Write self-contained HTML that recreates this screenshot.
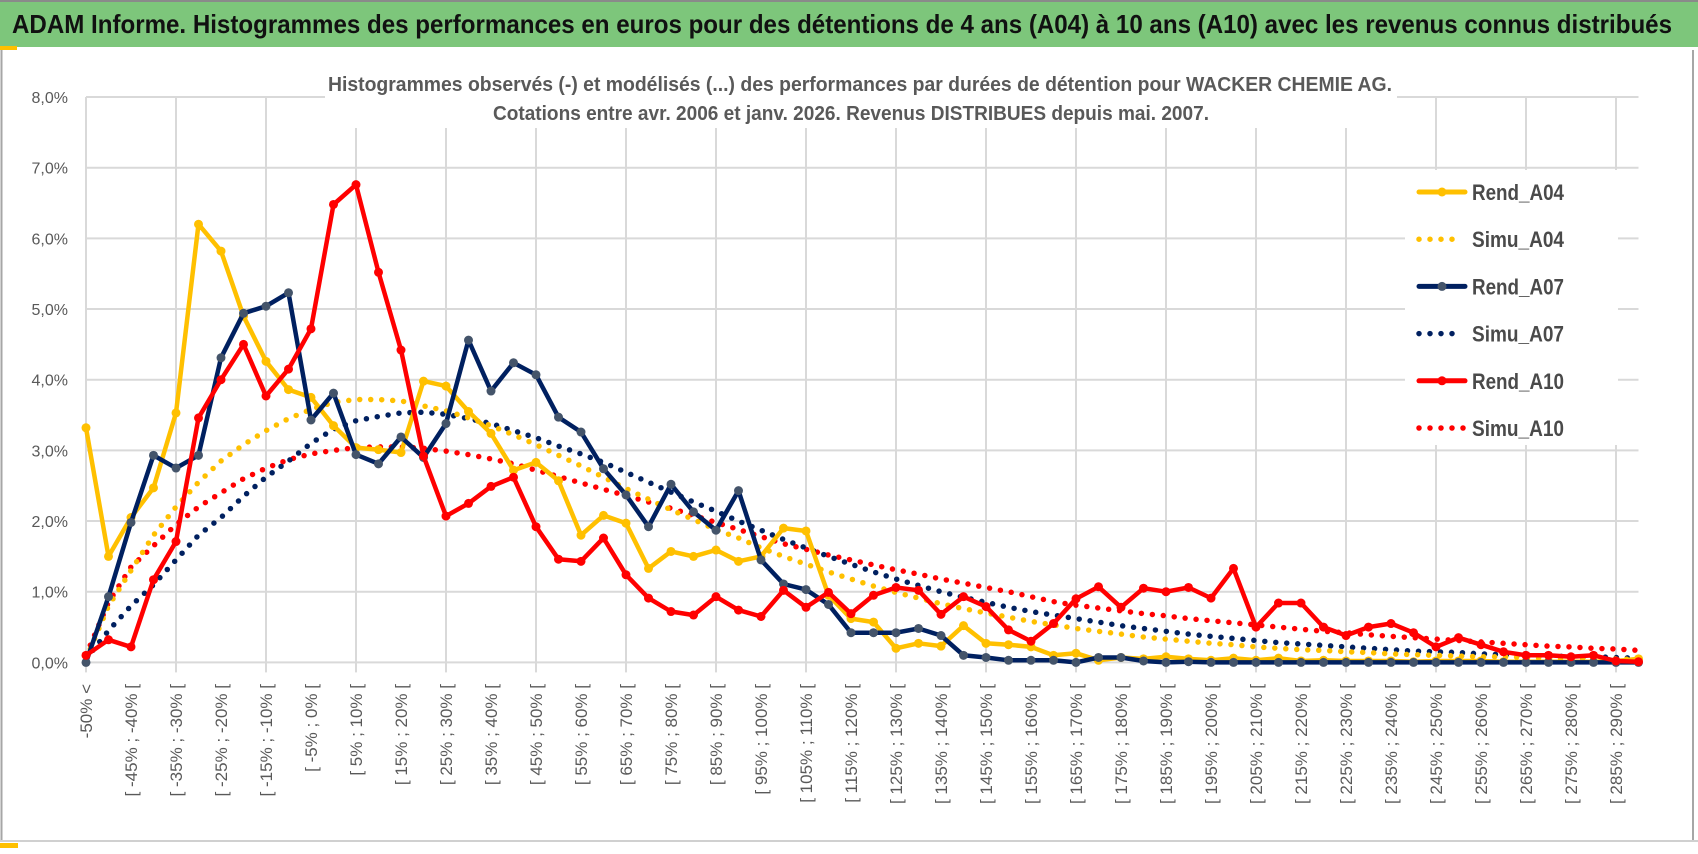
<!DOCTYPE html>
<html><head><meta charset="utf-8"><style>
html,body{margin:0;padding:0;background:#fff;}
#wrap{position:relative;width:1698px;height:854px;overflow:hidden;background:#fff;font-family:"Liberation Sans",sans-serif;}
svg text{font-family:"Liberation Sans",sans-serif;}
</style></head><body>
<div id="wrap">
<svg id="chart" width="1698" height="854" viewBox="0 0 1698 854" xmlns="http://www.w3.org/2000/svg">
  <rect x="0" y="0" width="1698" height="47" fill="#7dc67b"/>
  <line x1="0" y1="1" x2="1698" y2="1" stroke="#8a8a8a" stroke-width="2"/>
  <text x="12" y="33" font-size="26" font-weight="bold" fill="#111" textLength="1660" lengthAdjust="spacingAndGlyphs">ADAM Informe. Histogrammes des performances en euros pour des détentions de 4 ans (A04) à 10 ans (A10) avec les revenus connus distribués</text>
  <rect x="0" y="46" width="17" height="4" fill="#ffc000"/>
  <line x1="1.5" y1="50" x2="1.5" y2="842" stroke="#a6a6a6" stroke-width="2"/>
  <line x1="1693" y1="50" x2="1693" y2="842" stroke="#a6a6a6" stroke-width="2"/>
  <line x1="0" y1="841" x2="1698" y2="841" stroke="#d0d0d0" stroke-width="2"/>
  <rect x="0" y="843" width="18" height="5" fill="#ffc000"/>
  <g id="grid"></g>
  <g id="yaxis"></g>
  <g id="xaxis"></g>
  <g id="series"></g>
  <rect x="325" y="68" width="1072" height="60" fill="#fff"/>
  <text x="860" y="91" font-size="20" font-weight="bold" fill="#595959" text-anchor="middle" textLength="1064" lengthAdjust="spacingAndGlyphs">Histogrammes observés (-) et modélisés (...) des performances par durées de détention pour WACKER CHEMIE AG.</text>
  <text x="851" y="120" font-size="20" font-weight="bold" fill="#595959" text-anchor="middle" textLength="716" lengthAdjust="spacingAndGlyphs">Cotations entre avr. 2006 et janv. 2026. Revenus DISTRIBUES depuis mai. 2007.</text>
  <g id="legend"></g>
</svg>
</div>
<script>
const categories = (function(){const a=['-50% <'];for(let k=1;k<70;k++){const lo=-55+5*k;a.push('[ '+lo+'% ; '+(lo+5)+'% [');}return a;})();
const yTicks = [0,1,2,3,4,5,6,7,8];
const yTickLabels = ['0,0%','1,0%','2,0%','3,0%','4,0%','5,0%','6,0%','7,0%','8,0%'];
const rendA04 = [3.32,1.5,2.05,2.47,3.53,6.2,5.82,4.9,4.26,3.86,3.75,3.35,3.04,3.01,2.97,3.98,3.91,3.55,3.24,2.72,2.83,2.57,1.8,2.08,1.97,1.33,1.57,1.5,1.59,1.43,1.5,1.9,1.86,0.95,0.62,0.57,0.2,0.27,0.23,0.52,0.27,0.25,0.22,0.1,0.13,0.03,0.07,0.05,0.08,0.05,0.03,0.06,0.03,0.06,0.02,0.03,0.02,0.02,0.02,0.01,0.02,0.02,0.02,0.01,0.01,0.01,0.01,0.01,0.02,0.05];
const simuA04 = [0.05,0.8,1.3,1.8,2.2,2.55,2.85,3.08,3.28,3.45,3.58,3.68,3.72,3.72,3.7,3.63,3.56,3.46,3.35,3.22,3.08,2.93,2.78,2.62,2.46,2.31,2.16,2.02,1.88,1.76,1.62,1.5,1.39,1.28,1.18,1.08,0.99,0.91,0.83,0.76,0.7,0.64,0.58,0.53,0.48,0.44,0.4,0.36,0.33,0.3,0.27,0.25,0.22,0.2,0.18,0.17,0.15,0.14,0.12,0.11,0.1,0.09,0.08,0.08,0.07,0.06,0.06,0.05,0.05,0.04];
const rendA07 = [0,0.93,1.98,2.93,2.75,2.93,4.31,4.94,5.04,5.23,3.43,3.81,2.94,2.81,3.19,2.9,3.38,4.56,3.84,4.24,4.07,3.47,3.26,2.74,2.37,1.92,2.52,2.13,1.87,2.43,1.45,1.11,1.03,0.82,0.42,0.42,0.42,0.48,0.38,0.1,0.07,0.03,0.03,0.03,0,0.07,0.07,0.02,0,0.01,0,0,0,0,0,0,0,0,0,0,0,0,0,0,0,0,0,0,0,0];
const simuA07 = [0.05,0.45,0.8,1.1,1.45,1.8,2.05,2.35,2.62,2.85,3.1,3.3,3.42,3.48,3.53,3.54,3.51,3.45,3.38,3.28,3.18,3.06,2.95,2.83,2.69,2.55,2.41,2.27,2.14,2.0,1.87,1.74,1.62,1.5,1.39,1.28,1.18,1.09,1.0,0.92,0.85,0.78,0.72,0.67,0.62,0.57,0.52,0.48,0.44,0.4,0.37,0.34,0.31,0.28,0.26,0.24,0.22,0.2,0.18,0.16,0.15,0.14,0.12,0.11,0.1,0.09,0.08,0.08,0.07,0.06];
const rendA10 = [0.1,0.32,0.22,1.17,1.71,3.46,4.0,4.5,3.77,4.15,4.72,6.48,6.76,5.52,4.42,2.92,2.07,2.25,2.49,2.62,1.92,1.46,1.43,1.76,1.24,0.91,0.72,0.67,0.93,0.74,0.65,1.02,0.78,0.99,0.69,0.95,1.06,1.02,0.68,0.93,0.79,0.46,0.3,0.55,0.9,1.07,0.78,1.05,1.0,1.06,0.91,1.33,0.5,0.84,0.84,0.5,0.38,0.5,0.55,0.42,0.22,0.35,0.25,0.15,0.1,0.1,0.08,0.1,0.02,0.01];
const simuA10 = [0.1,0.85,1.35,1.65,1.95,2.2,2.4,2.6,2.75,2.87,2.95,3.0,3.04,3.05,3.05,3.03,2.99,2.94,2.88,2.81,2.72,2.63,2.54,2.45,2.36,2.27,2.18,2.08,1.98,1.88,1.78,1.68,1.6,1.52,1.45,1.38,1.31,1.25,1.18,1.12,1.06,1.0,0.93,0.86,0.81,0.77,0.73,0.69,0.66,0.62,0.59,0.56,0.53,0.5,0.47,0.44,0.42,0.39,0.37,0.35,0.33,0.31,0.29,0.27,0.25,0.23,0.22,0.2,0.19,0.17];
const seriesNames = ['Rend_A04','Simu_A04','Rend_A07','Simu_A07','Rend_A10','Simu_A10'];

const NS='http://www.w3.org/2000/svg';
const X0=86, DX=22.5, Y0=662.4, DY=70.67, XR=1638.5;
function xPos(i){return X0+DX*i;}
function yPos(v){return Y0-DY*v;}
function mk(tag,attrs,parent){const e=document.createElementNS(NS,tag);for(const k in attrs)e.setAttribute(k,attrs[k]);parent.appendChild(e);return e;}

const grid=document.getElementById('grid');
yTicks.forEach(function(t){
  const l=mk('line',{x1:X0,x2:XR,y1:yPos(t),y2:yPos(t),stroke:'#d9d9d9','stroke-width':2},grid);
  
  
});
for(let i=0;i<categories.length;i+=4){
  const l=mk('line',{x1:xPos(i),x2:xPos(i),y1:yPos(8),y2:Y0+10,stroke:'#d9d9d9','stroke-width':2},grid);
  
  
}
const yaxis=document.getElementById('yaxis');
yTicks.forEach(function(t,k){
  const tx=mk('text',{x:68,y:yPos(t)+6,'font-size':16,fill:'#595959','text-anchor':'end'},yaxis);
  tx.textContent=yTickLabels[k];
  
  
});
const xaxis=document.getElementById('xaxis');
categories.forEach(function(c,i){
  if(i%2!==0) return;
  const x=xPos(i)+6, y=684;
  const tx=mk('text',{x:x,y:y,'font-size':17,fill:'#595959','text-anchor':'end',transform:'rotate(-90 '+x+' '+y+')'},xaxis);
  tx.textContent=c;
  
  
});

const ser=document.getElementById('series');
function drawDotted(arr,color,name){
  const d=arr.map(function(v,i){return (i?'L':'M')+xPos(i).toFixed(1)+' '+yPos(v).toFixed(1);}).join(' ');
  const p=mk('path',{d:d,fill:'none',stroke:color,'stroke-width':5.5,'stroke-linecap':'round','stroke-dasharray':'0 11'},ser);
  
  
}
function drawSolid(arr,color,mcol,name){
  const g=mk('g',{},ser);
  
  
  const d=arr.map(function(v,i){return (i?'L':'M')+xPos(i).toFixed(1)+' '+yPos(v).toFixed(1);}).join(' ');
  const p=mk('path',{d:d,fill:'none',stroke:color,'stroke-width':4.5,'stroke-linejoin':'round'},g);
  
  
  arr.forEach(function(v,i){
    const c=mk('circle',{cx:xPos(i),cy:yPos(v),r:4.5,fill:mcol},g);
    
    
  });
}
drawDotted(simuA10,'#ff0000','simu-a10-line');
drawDotted(simuA07,'#002060','simu-a07-line');
drawDotted(simuA04,'#ffc000','simu-a04-line');
drawSolid(rendA04,'#ffc000','#ffc000','rend-a04-series');
drawSolid(rendA07,'#002060','#44546a','rend-a07-series');
drawSolid(rendA10,'#ff0000','#ff0000','rend-a10-series');

const leg=document.getElementById('legend');
mk('rect',{x:1405,y:170,width:213,height:275,fill:'#fff'},leg);
const legColors=['#ffc000','#ffc000','#002060','#002060','#ff0000','#ff0000'];
const legMark=['#ffc000',null,'#44546a',null,'#ff0000',null];
seriesNames.forEach(function(n,k){
  const y=192+47.2*k;
  const g=mk('g',{},leg);
  
  
  if(k%2===0){
    mk('line',{x1:1419,x2:1465,y1:y,y2:y,stroke:legColors[k],'stroke-width':5,'stroke-linecap':'round'},g);
    mk('circle',{cx:1442,cy:y,r:4.5,fill:legMark[k]},g);
  } else {
    mk('line',{x1:1419,x2:k===5?1465:1457,y1:y,y2:y,stroke:legColors[k],'stroke-width':5.5,'stroke-linecap':'round','stroke-dasharray':'0 11'},g);
  }
  const t=mk('text',{x:1472,y:y+8,'font-size':22,'font-weight':'bold',fill:'#4a4a4a',textLength:92,lengthAdjust:'spacingAndGlyphs'},g);
  t.textContent=n;
});
</script>
</body></html>
